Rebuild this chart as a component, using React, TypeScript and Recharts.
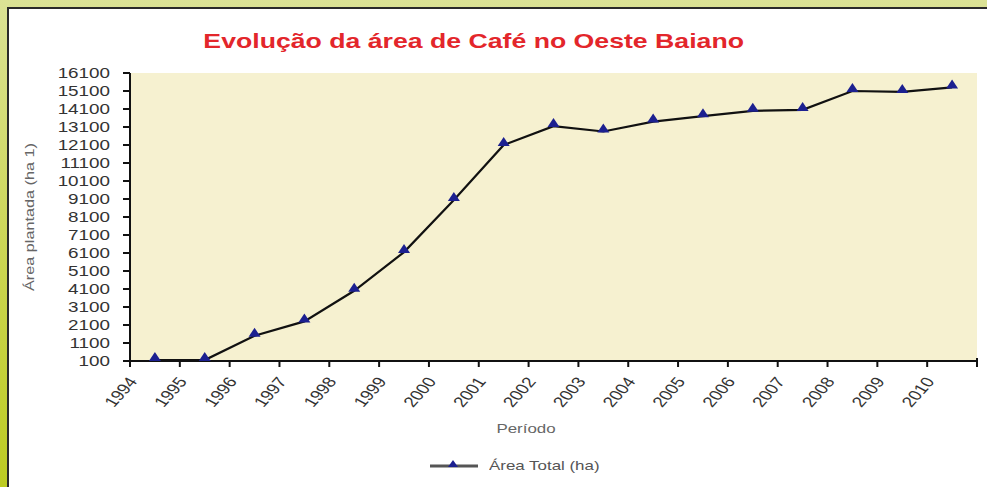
import {
  LineChart,
  Line,
  XAxis,
  YAxis,
  CartesianGrid,
  Legend,
  Label,
} from "recharts";

const years = [
  "1994", "1995", "1996", "1997", "1998", "1999", "2000", "2001", "2002",
  "2003", "2004", "2005", "2006", "2007", "2008", "2009", "2010",
];

const areaTotal = [
  150, 150, 1500, 2300, 4000, 6150, 9050, 12100, 13150,
  12850, 13400, 13700, 14000, 14050, 15100, 15050, 15300,
];

const yTicks = [
  100, 1100, 2100, 3100, 4100, 5100, 6100, 7100, 8100,
  9100, 10100, 11100, 12100, 13100, 14100, 15100, 16100,
];

const data = years.map((year, i) => ({ year, area: areaTotal[i] }));

const FONT = "'Liberation Sans', Arial, sans-serif";
const STRETCH = 1.3;
const PLOT_LEFT = 130;
const PLOT_RIGHT = 977;
const HALF_BAND = (PLOT_RIGHT - PLOT_LEFT) / years.length / 2;

function Triangle(props: any) {
  const { cx, cy } = props;
  if (cx == null || cy == null) return null;
  return (
    <polygon
      points={`${cx},${cy - 8} ${cx + 6},${cy + 1} ${cx - 6},${cy + 1}`}
      fill="#1c2090"
    />
  );
}

function YTick(props: any) {
  const { x, y, payload } = props;
  return (
    <text
      transform={`translate(${x},${y}) scale(${STRETCH},1)`}
      textAnchor="end"
      dominantBaseline="central"
      fontSize={14.5}
      fontFamily={FONT}
      fill="#333"
    >
      {payload.value}
    </text>
  );
}

// the source picture is stretched sideways, so the rotated year labels
// are rotated first and then widened in screen space
function XTick(props: any) {
  const { x, y, payload, index } = props;
  const half = payload.offset ? payload.offset : HALF_BAND;
  const left = x - half;
  return (
    <g>
      <line x1={left} y1={y} x2={left} y2={y + 6} stroke="#111" strokeWidth={2} />
      {index === years.length - 1 && (
        <line x1={x + half} y1={y - 3} x2={x + half} y2={y + 6} stroke="#111" strokeWidth={2} />
      )}
      <text
        transform={`translate(${left + 3},${y + 18}) scale(${STRETCH},1) rotate(-55)`}
        textAnchor="end"
        dominantBaseline="central"
        fontSize={14.5}
        fontFamily={FONT}
        fill="#333"
      >
        {payload.value}
      </text>
    </g>
  );
}

function YLabel(props: any) {
  const { viewBox } = props;
  const cy = viewBox.y + viewBox.height / 2;
  return (
    <text
      transform={`translate(30,${cy}) rotate(-90) scale(${STRETCH},1)`}
      textAnchor="middle"
      dominantBaseline="central"
      fontSize={12.5}
      fontFamily={FONT}
      fill="#666"
    >
      Área plantada (ha 1)
    </text>
  );
}

function XLabel() {
  return (
    <text
      transform={`translate(526,428) scale(${STRETCH},1)`}
      textAnchor="middle"
      dominantBaseline="central"
      fontSize={13}
      fontFamily={FONT}
      fill="#666"
    >
      Período
    </text>
  );
}

function LegendBox() {
  return (
    <div style={{ position: "relative", width: 987, height: 36 }}>
      <svg
        width={60}
        height={20}
        style={{ position: "absolute", left: 428, top: 5 }}
      >
        <line x1={2} y1={10} x2={50} y2={10} stroke="#555" strokeWidth={3} />
        <polygon points="25,4 30,11 20,11" fill="#1c2090" />
      </svg>
      <span
        style={{
          position: "absolute",
          left: 489,
          top: 7,
          fontFamily: FONT,
          fontSize: 13,
          color: "#555",
          whiteSpace: "nowrap",
          transform: `scaleX(${STRETCH})`,
          transformOrigin: "left center",
        }}
      >
        Área Total (ha)
      </span>
    </div>
  );
}

export default function App() {
  return (
    <div
      style={{
        position: "absolute",
        left: 0,
        top: 0,
        width: 987,
        height: 487,
        overflow: "hidden",
        background: "linear-gradient(180deg, #dbe295 0%, #c9d44a 60%, #bccb22 100%)",
      }}
    >
      <div
        style={{
          position: "absolute",
          left: 7,
          top: 7,
          width: 980,
          height: 480,
          background: "#ffffff",
          borderTop: "2px solid #2a2a2a",
          borderLeft: "2px solid #2a2a2a",
          boxSizing: "border-box",
        }}
      />
      <div
        style={{
          position: "absolute",
          left: 0,
          top: 29,
          width: 947,
          textAlign: "center",
          fontFamily: FONT,
          fontWeight: "bold",
          fontSize: 20.5,
          color: "#e3262b",
          transform: `scaleX(${STRETCH})`,
          transformOrigin: "473px center",
          whiteSpace: "nowrap",
        }}
      >
        Evolução da área de Café no Oeste Baiano
      </div>
      <div style={{ position: "absolute", left: 0, top: 0 }}>
        <LineChart
          width={987}
          height={487}
          data={data}
          margin={{ top: 73, right: 10, left: 0, bottom: 0 }}
        >
          <CartesianGrid
            fill="#f6f1d0"
            horizontal={false}
            vertical={false}
            stroke="none"
          />
          <XAxis
            dataKey="year"
            type="category"
            scale="band"
            interval={0}
            height={90}
            tickSize={0}
            tickMargin={0}
            tickLine={false}
            axisLine={{ stroke: "#111", strokeWidth: 2 }}
            tick={<XTick />}
          >
            <Label content={<XLabel />} />
          </XAxis>
          <YAxis
            width={130}
            domain={[100, 16100]}
            ticks={yTicks}
            interval={0}
            tickSize={7}
            tickMargin={13}
            tickLine={{ stroke: "#111", strokeWidth: 2 }}
            axisLine={{ stroke: "#111", strokeWidth: 2 }}
            tick={<YTick />}
          >
            <Label content={<YLabel />} />
          </YAxis>
          <Legend
            verticalAlign="bottom"
            height={36}
            content={<LegendBox />}
            wrapperStyle={{ left: 0, width: 987 }}
          />
          <Line
            type="linear"
            dataKey="area"
            name="Área Total (ha)"
            stroke="#111"
            strokeWidth={2.2}
            dot={<Triangle />}
            activeDot={false}
            isAnimationActive={false}
          />
        </LineChart>
      </div>
    </div>
  );
}
